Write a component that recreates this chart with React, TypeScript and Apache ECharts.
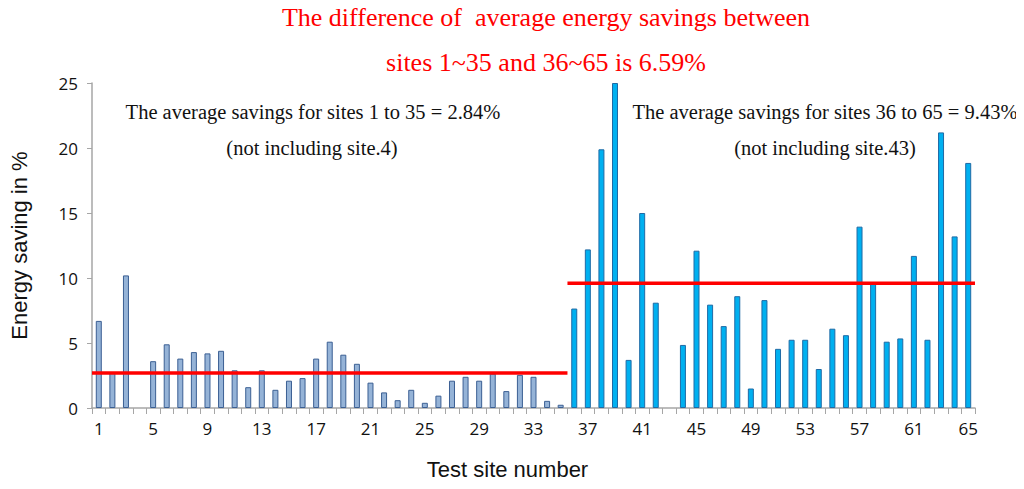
import React, { useEffect, useRef } from 'react';
import * as echarts from 'echarts';

// sites 1..65
const sites: string[] = Array.from({ length: 65 }, (_, i) => String(i + 1));

// energy saving in % for sites 1-35 (site 4 missing)
const savingsLow: (number | null)[] = [
  6.7, 2.7, 10.2, null, 3.6, 4.9, 3.8, 4.3, 4.2, 4.4,
  2.9, 1.6, 2.9, 1.4, 2.1, 2.3, 3.8, 5.1, 4.1, 3.4,
  1.95, 1.2, 0.6, 1.4, 0.4, 0.95, 2.1, 2.4, 2.1, 2.65,
  1.3, 2.55, 2.4, 0.55, 0.25,
];

// sites 36-65 (site 43 missing)
const savingsHigh: (number | null)[] = [
  7.65, 12.2, 19.9, 25, 3.7, 15.0, 8.1, null, 4.85, 12.1,
  7.95, 6.3, 8.6, 1.5, 8.3, 4.55, 5.25, 5.25, 3.0, 6.1,
  5.6, 13.95, 9.6, 5.1, 5.35, 11.7, 5.25, 21.2, 13.2, 18.85,
];

// red average lines: [fromSite boundary, toSite boundary, level]
const avgLow: [number, number, number] = [0, 35, 2.7];
const avgHigh: [number, number, number] = [35, 65, 9.6];

const yTicks = { min: 0, max: 25, interval: 5 };

const titleLines = [
  'The difference of  average energy savings between',
  'sites 1~35 and 36~65 is 6.59%',
];
const noteLow = ['The average savings for sites 1 to 35 = 2.84%', '(not including site.4)'];
const noteHigh = ['The average savings for sites 36 to 65 = 9.43%', '(not including site.43)'];

export default function App() {
  const ref = useRef<HTMLDivElement | null>(null);

  useEffect(() => {
    if (!ref.current) return;
    const chart = echarts.init(ref.current, undefined, { renderer: 'svg' });
    const padLow = [...savingsLow, ...savingsHigh.map(() => null)];
    const padHigh = [...savingsLow.map(() => null), ...savingsHigh];
    const serif = '"Liberation Serif", "Times New Roman", serif';
    const sans = '"Liberation Sans", Arial, sans-serif';
    const noteStyle = { font: `20.5px ${serif}`, fill: '#111', textAlign: 'center' as const };

    chart.setOption({
      animation: false,
      backgroundColor: '#fff',
      title: {
        text: titleLines.join('\n'),
        left: 541,
        textAlign: 'center',
        top: -10,
        textStyle: { color: '#ff0000', fontFamily: serif, fontSize: 26, fontWeight: 'normal', lineHeight: 45 },
      },
      grid: { left: 89, right: 49, top: 83, bottom: 81 },
      xAxis: [
        {
          type: 'category',
          data: sites,
          name: 'Test site number',
          nameLocation: 'middle',
          nameGap: 50,
          nameTextStyle: { color: '#111', fontSize: 22, fontFamily: sans, padding: [0, 52, 0, 0] },
          axisLine: { lineStyle: { color: '#a6a6a6', width: 1.5 } },
          axisTick: { show: true, interval: 0, length: 6, lineStyle: { color: '#a6a6a6' } },
          axisLabel: { interval: 3, color: '#111', fontSize: 17, fontFamily: '"Open Sans", sans-serif', margin: 12 },
        },
        { type: 'value', min: 0, max: 65, show: false },
      ],
      yAxis: {
        type: 'value',
        ...yTicks,
        name: 'Energy saving in %',
        nameLocation: 'middle',
        nameGap: 62,
        nameRotate: 90,
        nameTextStyle: { color: '#111', fontSize: 22, fontFamily: sans },
        axisLine: { show: true, lineStyle: { color: '#a6a6a6', width: 1.5 } },
        axisTick: { show: true, length: 5, lineStyle: { color: '#a6a6a6' } },
        axisLabel: { color: '#111', fontSize: 17, fontFamily: '"Open Sans", sans-serif', margin: 14 },
        splitLine: { show: false },
      },
      series: [
        {
          type: 'bar',
          data: padLow,
          barWidth: 6,
          barGap: '-100%',
          itemStyle: { color: '#95b3d7', borderColor: '#3b5f93', borderWidth: 1 },
        },
        {
          type: 'bar',
          data: padHigh,
          barWidth: 6,
          itemStyle: { color: '#00b0f0', borderColor: '#1f6aa5', borderWidth: 1 },
        },
        {
          type: 'line',
          xAxisIndex: 1,
          data: [[avgLow[0], avgLow[2]], [avgLow[1], avgLow[2]]],
          symbol: 'none',
          lineStyle: { color: '#ff0000', width: 3.5 },
          z: 5,
        },
        {
          type: 'line',
          xAxisIndex: 1,
          data: [[avgHigh[0], avgHigh[2]], [avgHigh[1], avgHigh[2]]],
          symbol: 'none',
          lineStyle: { color: '#ff0000', width: 3.5 },
          z: 5,
        },
      ],
      graphic: [
        { type: 'text', x: 313, y: 101, style: { ...noteStyle, text: noteLow[0] } },
        { type: 'text', x: 312, y: 137, style: { ...noteStyle, text: noteLow[1] } },
        { type: 'text', x: 825, y: 101, style: { ...noteStyle, text: noteHigh[0] } },
        { type: 'text', x: 825, y: 137, style: { ...noteStyle, text: noteHigh[1] } },
      ],
    });
    return () => chart.dispose();
  }, []);

  return <div ref={ref} style={{ width: 1024, height: 489, margin: -8 }} />;
}
